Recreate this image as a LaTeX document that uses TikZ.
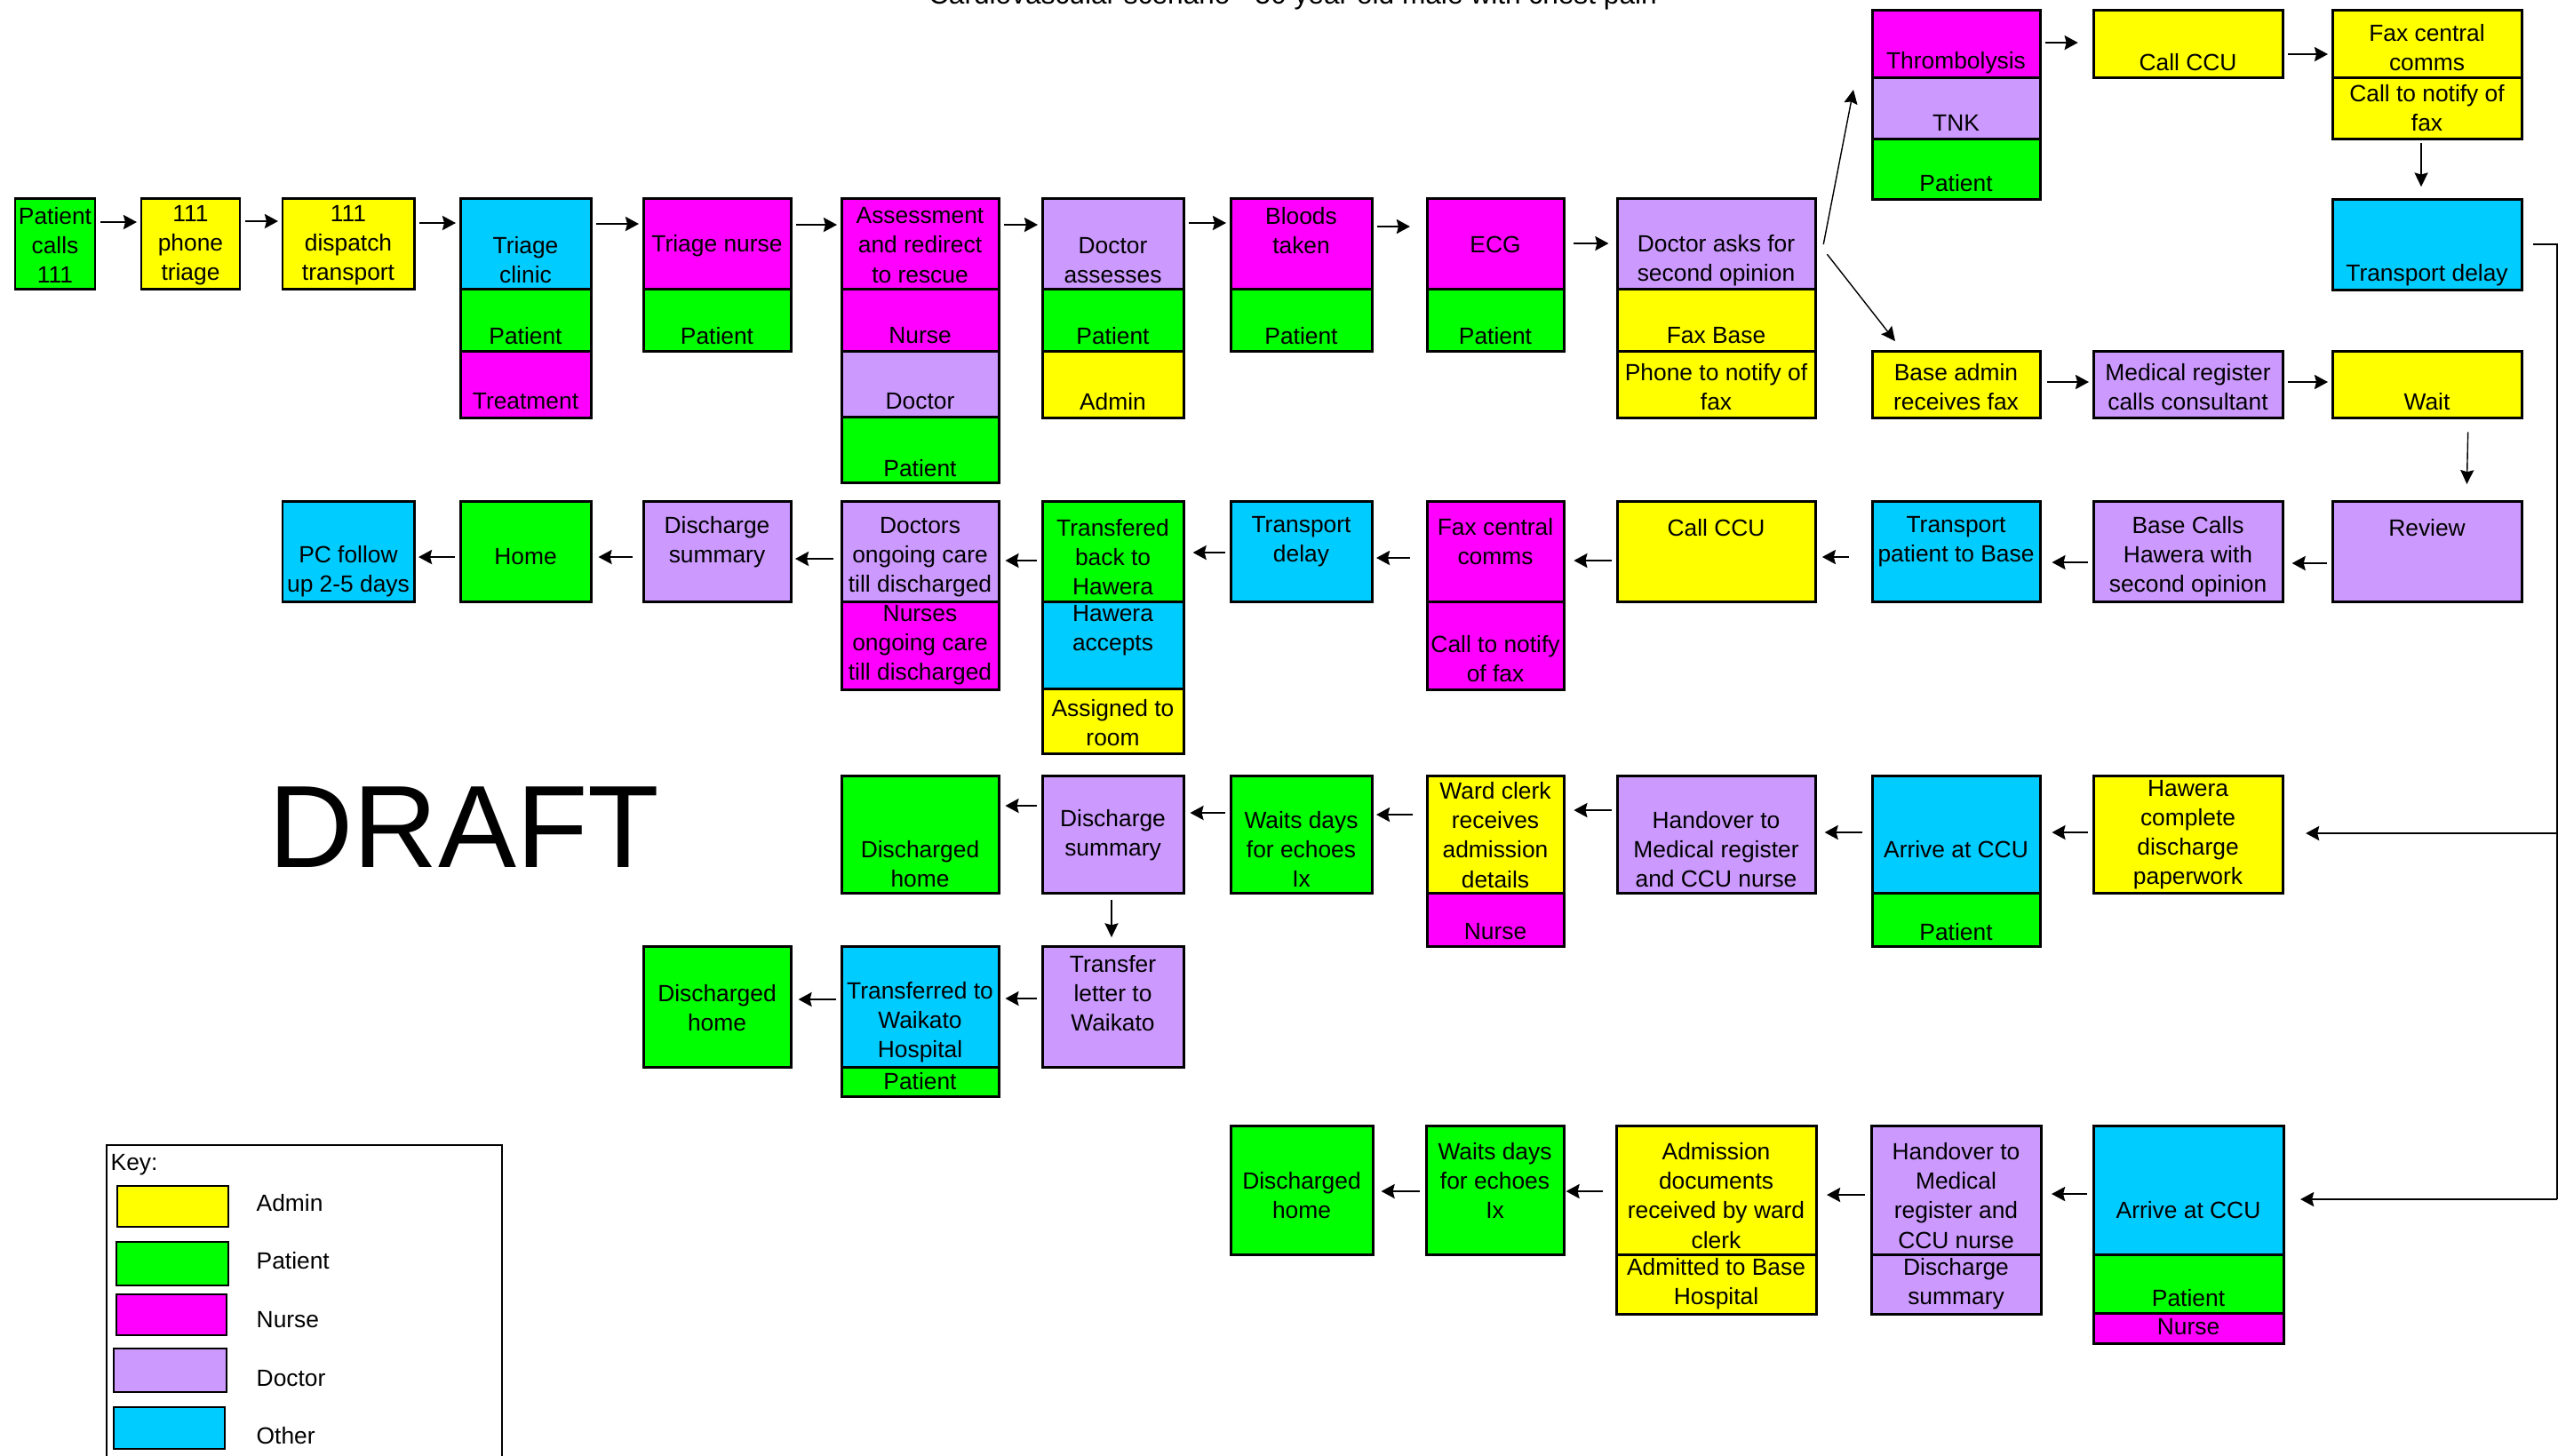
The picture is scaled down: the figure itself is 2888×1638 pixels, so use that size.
\documentclass[tikz,border=0pt]{standalone}
\usepackage{fontspec}
\setmainfont{Liberation Sans}
\usepackage{xcolor}
\usepackage{tikz}
\usetikzlibrary{fit,arrows.meta}

\definecolor{adm}{HTML}{FFFF00}
\definecolor{pat}{HTML}{00FF00}
\definecolor{nrs}{HTML}{FF00FF}
\definecolor{doc}{HTML}{CC99FF}
\definecolor{oth}{HTML}{00CCFF}

\tikzset{
  cell/.style={draw=black, line width=0.85pt, inner sep=0pt, fill=#1},
  txt/.style={align=center, inner sep=0pt, font=\fontsize{7.5}{9.4}\selectfont},
  arr/.style={line width=0.5pt, -{Stealth[length=4.3pt,width=4.6pt,inset=0.6pt]}, shorten <=1.4pt, shorten >=1pt},
  arrthin/.style={line width=0.4pt, -{Stealth[length=4.5pt,width=4.3pt,inset=0.6pt]}},
  wire/.style={line width=0.45pt},
}

\begin{document}
\begin{tikzpicture}[x=0.01cm, y=-0.01cm]
\useasboundingbox (0,0) rectangle (2888,1638);

% title, cut at the top edge
\node[anchor=base, inner sep=0pt, font=\fontsize{9}{11}\selectfont] (title) at (1455,4) {Cardiovascular scenario - 50 year old male with chest pain};

% row 1
\node[cell=pat, fit={(17,223) (107,325)}] (call) {};
\node[txt] (callT) at (call |- 0,276) {Patient\\calls\\111};
\node[cell=adm, fit={(159,223) (270,325)}] (phone) {};
\node[txt] (phoneT) at (phone |- 0,276) {111\\phone\\triage};
\node[cell=adm, fit={(318,223) (466,325)}] (dispatch) {};
\node[txt] (dispatchT) at (dispatch |- 0,276) {111\\dispatch\\transport};
\node[cell=oth, fit={(518,223) (665,325)}] (triage) {};
\node[txt] (triageT) at (triage |- 0,293) {Triage\\clinic};
\node[cell=pat, fit={(518,325) (665,395)}] (triagePt) {};
\node[txt] (triagePtT) at (triagePt |- 0,378) {Patient};
\node[cell=nrs, fit={(518,395) (665,470)}] (triageTx) {};
\node[txt] (triageTxT) at (triageTx |- 0,452) {Treatment};
\node[cell=nrs, fit={(724,223) (890,325)}] (tnurse) {};
\node[txt] (tnurseT) at (tnurse |- 0,277) {Triage nurse};
\node[cell=pat, fit={(724,325) (890,395)}] (tnursePt) {};
\node[txt] (tnursePtT) at (tnursePt |- 0,378) {Patient};
\node[cell=nrs, fit={(947,223) (1124,325)}] (assess) {};
\node[txt] (assessT) at (assess |- 0,276) {Assessment\\and redirect\\to rescue};
\node[cell=nrs, fit={(947,325) (1124,395)}] (assessNr) {};
\node[txt] (assessNrT) at (assessNr |- 0,378) {Nurse};
\node[cell=doc, fit={(947,395) (1124,469)}] (assessDr) {};
\node[txt] (assessDrT) at (assessDr |- 0,452) {Doctor};
\node[cell=pat, fit={(947,469) (1124,543)}] (assessPt) {};
\node[txt] (assessPtT) at (assessPt |- 0,527) {Patient};
\node[cell=doc, fit={(1173,223) (1332,325)}] (docass) {};
\node[txt] (docassT) at (docass |- 0,293) {Doctor\\assesses};
\node[cell=pat, fit={(1173,325) (1332,395)}] (docassPt) {};
\node[txt] (docassPtT) at (docassPt |- 0,378) {Patient};
\node[cell=adm, fit={(1173,395) (1332,470)}] (docassAd) {};
\node[txt] (docassAdT) at (docassAd |- 0,452) {Admin};
\node[cell=nrs, fit={(1385,223) (1544,325)}] (bloods) {};
\node[txt] (bloodsT) at (bloods |- 0,260) {Bloods\\taken};
\node[cell=pat, fit={(1385,325) (1544,395)}] (bloodsPt) {};
\node[txt] (bloodsPtT) at (bloodsPt |- 0,378) {Patient};
\node[cell=nrs, fit={(1606,223) (1760,325)}] (ecg) {};
\node[txt] (ecgT) at (ecg |- 0,275) {ECG};
\node[cell=pat, fit={(1606,325) (1760,395)}] (ecgPt) {};
\node[txt] (ecgPtT) at (ecgPt |- 0,378) {Patient};
\node[cell=doc, fit={(1820,223) (2043,325)}] (dask) {};
\node[txt] (daskT) at (dask |- 0,293) {Doctor asks for\\second opinion};
\node[cell=adm, fit={(1820,325) (2043,395)}] (daskFax) {};
\node[txt] (daskFaxT) at (daskFax |- 0,378) {Fax Base};
\node[cell=adm, fit={(1820,395) (2043,470)}] (daskPh) {};
\node[txt] (daskPhT) at (daskPh |- 0,436) {Phone to notify of\\fax};

% upper branch
\node[cell=nrs, fit={(2107,11) (2296,87)}] (thromb) {};
\node[txt] (thrombT) at (thromb |- 0,71) {Thrombolysis};
\node[cell=doc, fit={(2107,87) (2296,156)}] (tnk) {};
\node[txt] (tnkT) at (tnk |- 0,138) {TNK};
\node[cell=pat, fit={(2107,156) (2296,224)}] (thrPt) {};
\node[txt] (thrPtT) at (thrPt |- 0,206) {Patient};
\node[cell=adm, fit={(2356,11) (2569,87)}] (ccuA) {};
\node[txt] (ccuAT) at (ccuA |- 0,70) {Call CCU};
\node[cell=adm, fit={(2625,11) (2838,87)}] (faxA) {};
\node[txt] (faxAT) at (faxA |- 0,54) {Fax central\\comms};
\node[cell=adm, fit={(2625,87) (2838,156)}] (faxAcall) {};
\node[txt] (faxAcallT) at (faxAcall |- 0,122) {Call to notify of\\fax};
\node[cell=oth, fit={(2625,224) (2838,326)}] (delayA) {};
\node[txt] (delayAT) at (delayA |- 0,310) {Transport delay};

% lower branch
\node[cell=adm, fit={(2107,395) (2296,470)}] (badmin) {};
\node[txt] (badminT) at (badmin |- 0,436) {Base admin\\receives fax};
\node[cell=doc, fit={(2356,395) (2569,470)}] (medreg) {};
\node[txt] (medregT) at (medreg |- 0,436) {Medical register\\calls consultant};
\node[cell=adm, fit={(2625,395) (2838,470)}] (wait) {};
\node[txt] (waitT) at (wait |- 0,452) {Wait};

% row 2
\node[cell=doc, fit={(2625,564) (2838,677)}] (review) {};
\node[txt] (reviewT) at (review |- 0,594) {Review};
\node[cell=doc, fit={(2356,564) (2569,677)}] (bcalls) {};
\node[txt] (bcallsT) at (bcalls |- 0,627) {Base Calls\\Hawera with\\second opinion};
\node[cell=oth, fit={(2107,564) (2296,677)}] (tpat) {};
\node[txt] (tpatT) at (tpat |- 0,610) {Transport\\patient to Base};
\node[cell=adm, fit={(1820,564) (2043,677)}] (ccuB) {};
\node[txt] (ccuBT) at (ccuB |- 0,594) {Call CCU};
\node[cell=nrs, fit={(1606,564) (1760,677)}] (faxB) {};
\node[txt] (faxBT) at (faxB |- 0,610) {Fax central\\comms};
\node[cell=nrs, fit={(1606,677) (1760,776)}] (faxBcall) {};
\node[txt] (faxBcallT) at (faxBcall |- 0,742) {Call to notify\\of fax};
\node[cell=oth, fit={(1385,564) (1544,677)}] (delayB) {};
\node[txt] (delayBT) at (delayB |- 0,610) {Transport\\delay};
\node[cell=pat, fit={(1173,564) (1332,677)}] (hback) {};
\node[txt] (hbackT) at (hback |- 0,627) {Transfered\\back to\\Hawera};
\node[cell=oth, fit={(1173,677) (1332,775)}] (hacc) {};
\node[txt] (haccT) at (hacc |- 0,710) {Hawera\\accepts};
\node[cell=adm, fit={(1173,775) (1332,848)}] (hroom) {};
\node[txt] (hroomT) at (hroom |- 0,814) {Assigned to\\room};
\node[cell=doc, fit={(947,564) (1124,677)}] (dcare) {};
\node[txt] (dcareT) at (dcare |- 0,627) {Doctors\\ongoing care\\till discharged};
\node[cell=nrs, fit={(947,677) (1124,776)}] (ncare) {};
\node[txt] (ncareT) at (ncare |- 0,726) {Nurses\\ongoing care\\till discharged};
\node[cell=doc, fit={(724,564) (890,677)}] (dsumA) {};
\node[txt] (dsumAT) at (dsumA |- 0,610) {Discharge\\summary};
\node[cell=pat, fit={(518,564) (665,677)}] (home) {};
\node[txt] (homeT) at (home |- 0,627) {Home};
\node[cell=oth, fit={(318,564) (466,677)}] (pcfu) {};
\node[txt] (pcfuT) at (pcfu |- 0,643) {PC follow\\up 2-5 days};

% row 3
\node[cell=adm, fit={(2356,873) (2569,1005)}] (hcomp) {};
\node[txt] (hcompT) at (hcomp |- 0,940) {Hawera\\complete\\discharge\\paperwork};
\node[cell=oth, fit={(2107,873) (2296,1005)}] (accuA) {};
\node[txt] (accuAT) at (accuA |- 0,956) {Arrive at CCU};
\node[cell=pat, fit={(2107,1005) (2296,1065)}] (accuApt) {};
\node[txt] (accuAptT) at (accuApt |- 0,1049) {Patient};
\node[cell=doc, fit={(1820,873) (2043,1005)}] (hoverA) {};
\node[txt] (hoverAT) at (hoverA |- 0,956) {Handover to\\Medical register\\and CCU nurse};
\node[cell=adm, fit={(1606,873) (1760,1005)}] (wclerk) {};
\node[txt] (wclerkT) at (wclerk |- 0,940) {Ward clerk\\receives\\admission\\details};
\node[cell=nrs, fit={(1606,1005) (1760,1065)}] (wclerkNr) {};
\node[txt] (wclerkNrT) at (wclerkNr |- 0,1049) {Nurse};
\node[cell=pat, fit={(1385,873) (1544,1005)}] (echoA) {};
\node[txt] (echoAT) at (echoA |- 0,956) {Waits days\\for echoes\\Ix};
\node[cell=doc, fit={(1173,873) (1332,1005)}] (dsumB) {};
\node[txt] (dsumBT) at (dsumB |- 0,940) {Discharge\\summary};
\node[cell=pat, fit={(947,873) (1124,1005)}] (dhomeA) {};
\node[txt] (dhomeAT) at (dhomeA |- 0,973) {Discharged\\home};

% row 4
\node[cell=doc, fit={(1173,1065) (1332,1201)}] (tletter) {};
\node[txt] (tletterT) at (tletter |- 0,1118) {Transfer\\letter to\\Waikato};
\node[cell=oth, fit={(947,1065) (1124,1201)}] (waik) {};
\node[txt] (waikT) at (waik |- 0,1151) {Transferred to\\Waikato\\Hospital};
\node[cell=pat, fit={(947,1201) (1124,1234)}] (waikPt) {};
\node[txt] (waikPtT) at (waikPt |- 0,1217) {Patient};
\node[cell=pat, fit={(724,1065) (890,1201)}] (dhomeB) {};
\node[txt] (dhomeBT) at (dhomeB |- 0,1135) {Discharged\\home};

% row 5
\node[cell=oth, fit={(2356,1267) (2570,1412)}] (accuB) {};
\node[txt] (accuBT) at (accuB |- 0,1362) {Arrive at CCU};
\node[cell=pat, fit={(2356,1412) (2570,1478)}] (accuBpt) {};
\node[txt] (accuBptT) at (accuBpt |- 0,1461) {Patient};
\node[cell=nrs, fit={(2356,1478) (2570,1512)}] (accuBnr) {};
\node[txt] (accuBnrT) at (accuBnr |- 0,1494) {Nurse};
\node[cell=doc, fit={(2106,1267) (2297,1412)}] (hoverB) {};
\node[txt] (hoverBT) at (hoverB |- 0,1346) {Handover to\\Medical\\register and\\CCU nurse};
\node[cell=doc, fit={(2106,1412) (2297,1479)}] (hoverBds) {};
\node[txt] (hoverBdsT) at (hoverBds |- 0,1445) {Discharge\\summary};
\node[cell=adm, fit={(1819,1267) (2044,1412)}] (admdoc) {};
\node[txt] (admdocT) at (admdoc |- 0,1346) {Admission\\documents\\received by ward\\clerk};
\node[cell=adm, fit={(1819,1412) (2044,1479)}] (admBase) {};
\node[txt] (admBaseT) at (admBase |- 0,1445) {Admitted to Base\\Hospital};
\node[cell=pat, fit={(1605,1267) (1760,1412)}] (echoB) {};
\node[txt] (echoBT) at (echoB |- 0,1329) {Waits days\\for echoes\\Ix};
\node[cell=pat, fit={(1385,1267) (1545,1412)}] (dhomeC) {};
\node[txt] (dhomeCT) at (dhomeC |- 0,1346) {Discharged\\home};

% connectors, row 1 and branches
\draw[arr] (call.east |- 0,250) -- (phone.west |- 0,250);
\draw[arr] (phone.east |- 0,249) -- (dispatch.west |- 0,249);
\draw[arr] (dispatch.east |- 0,251) -- (triage.west |- 0,251);
\draw[arr] (triage.east |- 0,252) -- (tnurse.west |- 0,252);
\draw[arr] (tnurse.east |- 0,253) -- (assess.west |- 0,253);
\draw[arr] (assess.east |- 0,253) -- (docass.west |- 0,253);
\draw[arr] (docass.east |- 0,251) -- (bloods.west |- 0,251);
\draw[arr, shorten >=5pt] (bloods.east |- 0,255) -- (ecg.west |- 0,255);
\draw[arr, shorten <=2.8pt, shorten >=2.3pt] (ecg.east |- 0,274) -- (dask.west |- 0,274);
\coordinate (thrIn) at (2086,101);
\coordinate (badIn) at (2133,384);
\draw[arrthin, shorten <=11.6pt] (dask.east |- 0,315) -- (thrIn);
\draw[arrthin, shorten <=5.5pt] (dask.east |- 0,271) -- (badIn);
\draw[arr, shorten >=4.5pt] (thromb.east |- 0,48) -- (ccuA.west |- 0,48);
\draw[arr] (ccuA.east |- 0,61) -- (faxA.west |- 0,61);
\draw[arrthin, shorten <=1.1pt, shorten >=3.5pt] (2725,0 |- faxAcall.south) -- (2725,0 |- delayA.north);
\draw[arr, shorten <=1.8pt] (badmin.east |- 0,430) -- (medreg.west |- 0,430);
\draw[arr] (medreg.east |- 0,430) -- (wait.west |- 0,430);
\draw[arrthin, shorten <=4.2pt, shorten >=5pt] (2778,0 |- wait.south) -- (2776,0 |- review.north);

% row 2
\draw[arr, shorten >=2.6pt] (review.west |- 0,634) -- (bcalls.east |- 0,634);
\draw[arr, shorten >=3.4pt] (bcalls.west |- 0,633) -- (tpat.east |- 0,633);
\draw[arr, shorten <=7pt, shorten >=1.8pt] (tpat.west |- 0,627) -- (ccuB.east |- 0,627);
\draw[arr, shorten >=2.8pt] (ccuB.west |- 0,631) -- (faxB.east |- 0,631);
\draw[arr, shorten <=5pt] (faxB.west |- 0,628) -- (delayB.east |- 0,628);
\draw[arr, shorten >=2.6pt] (delayB.west |- 0,622) -- (hback.east |- 0,622);
\draw[arr, shorten >=1.7pt] (hback.west |- 0,631) -- (dcare.east |- 0,631);
\draw[arr, shorten <=2pt] (dcare.west |- 0,629) -- (dsumA.east |- 0,629);
\draw[arr, shorten <=3.1pt, shorten >=2pt] (dsumA.west |- 0,627) -- (home.east |- 0,627);
\draw[arr] (home.west |- 0,627) -- (pcfu.east |- 0,627);

% trunk from the transport delay
\coordinate (trunkA) at (2878,938);
\coordinate (trunkB) at (2878,1350);
\draw[wire] ([xshift=3.4pt]delayA.east) -| (trunkB);
\draw[arr, shorten <=0pt, shorten >=7pt] (trunkA) -- (hcomp.east |- trunkA);
\draw[arr, shorten <=0pt, shorten >=5pt] (trunkB) -- (accuB.east |- trunkB);

% row 3
\draw[arr, shorten >=3.4pt] (hcomp.west |- 0,937) -- (accuA.east |- 0,937);
\draw[arr, shorten <=2.6pt, shorten >=2.6pt] (accuA.west |- 0,937) -- (hoverA.east |- 0,937);
\draw[arr, shorten >=2.8pt] (hoverA.west |- 0,912) -- (wclerk.east |- 0,912);
\draw[arr, shorten <=4pt] (wclerk.west |- 0,917) -- (echoA.east |- 0,917);
\draw[arr, shorten >=1.7pt] (echoA.west |- 0,915) -- (dsumB.east |- 0,915);
\draw[arr, shorten >=1.7pt] (dsumB.west |- 0,907) -- (dhomeA.east |- 0,907);
\draw[arrthin, shorten <=1.7pt, shorten >=2.4pt] (1251,0 |- dsumB.south) -- (1251,0 |- tletter.north);

% row 4
\draw[arr, shorten >=1.7pt] (tletter.west |- 0,1124) -- (waik.east |- 0,1124);
\draw[arr, shorten >=2pt] (waik.west |- 0,1125) -- (dhomeB.east |- 0,1125);

% row 5
\draw[arr, shorten <=1.7pt, shorten >=3pt] (accuB.west |- 0,1344) -- (hoverB.east |- 0,1344);
\draw[arr, shorten <=1.7pt, shorten >=3pt] (hoverB.west |- 0,1345) -- (admdoc.east |- 0,1345);
\draw[arr, shorten <=3.8pt, shorten >=0.3pt] (admdoc.west |- 0,1341) -- (echoB.east |- 0,1341);
\draw[arr, shorten <=1.7pt, shorten >=2.3pt] (echoB.west |- 0,1341) -- (dhomeC.east |- 0,1341);

% draft mark
\node[anchor=base west, inner sep=0pt, font=\fontsize{37.5}{40}\selectfont] (draft) at (302,976) {DRAFT};

% key
\draw[line width=0.5pt] (120,1289) rectangle (565,1700);
\node[txt, anchor=base west] (keyT) at (124,1317) {Key:};
\node[cell=adm, line width=0.7pt, fit={(132,1335) (257,1381)}] (keyAdm) {};
\node[txt, anchor=west] (keyAdmT) at (288,1354) {Admin};
\node[cell=pat, line width=0.7pt, fit={(131,1398) (257,1447)}] (keyPat) {};
\node[txt, anchor=west] (keyPatT) at (288,1419) {Patient};
\node[cell=nrs, line width=0.7pt, fit={(131,1457) (255,1503)}] (keyNrs) {};
\node[txt, anchor=west] (keyNrsT) at (288,1486) {Nurse};
\node[cell=doc, line width=0.7pt, fit={(128,1518) (255,1567)}] (keyDoc) {};
\node[txt, anchor=west] (keyDocT) at (288,1552) {Doctor};
\node[cell=oth, line width=0.7pt, fit={(128,1584) (253,1631)}] (keyOth) {};
\node[txt, anchor=west] (keyOthT) at (288,1616) {Other};
\end{tikzpicture}
\end{document}
